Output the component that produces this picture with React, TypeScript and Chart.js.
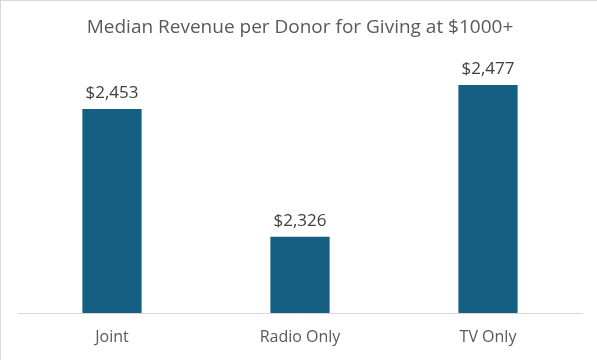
import React, { useEffect, useRef } from "react";
import { Chart, registerables } from "chart.js";

Chart.register(...registerables);

const categories = ["Joint", "Radio Only", "TV Only"];
const values = [2453, 2326, 2477];
const yMin = 2250;
const yMax = 2500;
const titleText = "Median Revenue per Donor for Giving at $1000+";

const fmt = (v: number) => "$" + v.toLocaleString("en-US");

const dataLabels = {
  id: "dataLabels",
  afterDatasetsDraw(chart: any) {
    const ctx = chart.ctx;
    const meta = chart.getDatasetMeta(0);
    ctx.save();
    ctx.font = "17px 'Open Sans', sans-serif";
    ctx.fillStyle = "#404040";
    ctx.textAlign = "center";
    ctx.textBaseline = "alphabetic";
    meta.data.forEach((bar: any, i: number) => {
      ctx.fillText(fmt(values[i]), bar.x, bar.y - 11);
    });
    ctx.restore();
  },
};

export default function App() {
  const ref = useRef<HTMLCanvasElement>(null);
  useEffect(() => {
    document.body.style.margin = "0";
    const chart = new Chart(ref.current!, {
      type: "bar",
      data: {
        labels: categories,
        datasets: [
          {
            data: values,
            backgroundColor: "#156082",
            barPercentage: 0.63,
            categoryPercentage: 0.5,
          },
        ],
      },
      options: {
        animation: false,
        responsive: false,
        maintainAspectRatio: false,
        layout: { padding: { left: 17, right: 15, top: 0, bottom: 0 } },
        plugins: {
          legend: { display: false },
          tooltip: { enabled: false },
          title: {
            display: true,
            text: titleText,
            color: "#595959",
            font: { family: "'Open Sans', sans-serif", size: 19, weight: "normal" },
            padding: { top: 15, bottom: 23 },
          },
        },
        scales: {
          x: {
            grid: { display: false, drawTicks: false },
            border: { display: true, color: "#D9D9D9", width: 1 },
            ticks: {
              color: "#595959",
              font: { family: "'Open Sans', sans-serif", size: 16 },
              padding: 15,
            },
            afterFit: (scale: any) => {
              scale.height = 47;
            },
          },
          y: {
            display: false,
            min: yMin,
            max: yMax,
          },
        },
      },
      plugins: [dataLabels],
    });
    return () => chart.destroy();
  }, []);
  return (
    <div
      style={{
        position: "absolute",
        left: 0,
        top: 0,
        width: 597,
        height: 360,
        boxSizing: "border-box",
        borderLeft: "1px solid #D9D9D9",
        borderTop: "1px solid #D9D9D9",
        background: "#fff",
      }}
    >
      <canvas ref={ref} width={596} height={359} />
    </div>
  );
}
